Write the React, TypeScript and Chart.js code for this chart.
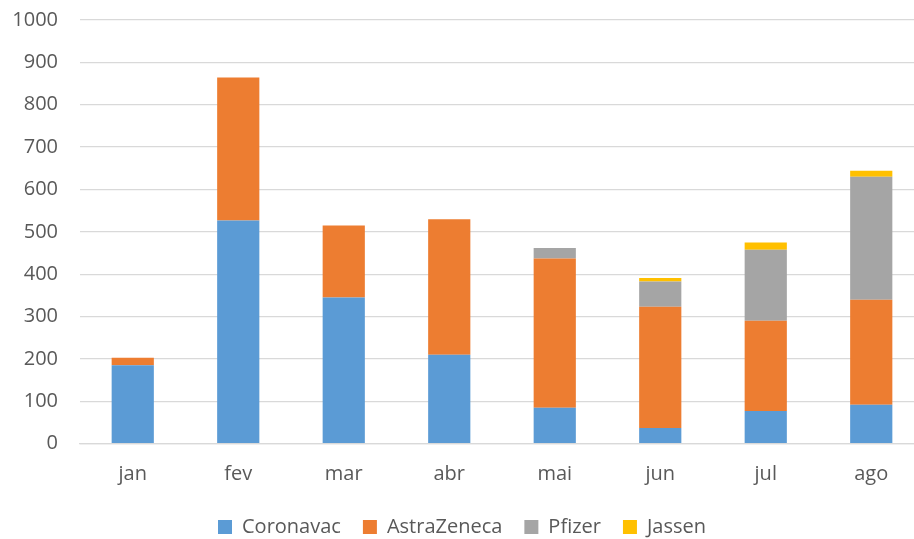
import React, { useEffect, useRef } from "react";
import { Chart, registerables } from "chart.js";

Chart.register(...registerables);

const months = ["jan", "fev", "mar", "abr", "mai", "jun", "jul", "ago"];
const coronavac = [185, 527, 345, 210, 85, 37, 77, 92];
const astraZeneca = [18, 337, 170, 320, 352, 286, 213, 248];
const pfizer = [0, 0, 0, 0, 25, 60, 168, 290];
const jassen = [0, 0, 0, 0, 0, 8, 17, 14];
const yTicks = [0, 100, 200, 300, 400, 500, 600, 700, 800, 900, 1000];

const FONT = "'Open Sans', 'DejaVu Sans', sans-serif";
const TEXT = "#595959";
const GRID = "#d9d9d9";

export default function App() {
  const ref = useRef<HTMLCanvasElement | null>(null);

  useEffect(() => {
    if (!ref.current) return;
    const chart = new Chart(ref.current, {
      type: "bar",
      data: {
        labels: months,
        datasets: [
          { label: "Coronavac", data: coronavac, backgroundColor: "#5B9BD5" },
          { label: "AstraZeneca", data: astraZeneca, backgroundColor: "#ED7D31" },
          { label: "Pfizer", data: pfizer, backgroundColor: "#A5A5A5" },
          { label: "Jassen", data: jassen, backgroundColor: "#FFC000" },
        ],
      },
      options: {
        responsive: false,
        animation: false,
        devicePixelRatio: 1,
        layout: { padding: { top: 20, left: 0, right: 0, bottom: 0 } },
        datasets: {
          bar: { categoryPercentage: 1, barPercentage: 0.4, borderWidth: 0 },
        },
        plugins: {
          tooltip: { enabled: false },
          legend: {
            position: "bottom",
            labels: {
              boxWidth: 14,
              boxHeight: 14,
              padding: 22,
              color: TEXT,
              font: { family: FONT, size: 20 },
            },
          },
        },
        scales: {
          x: {
            stacked: true,
            grid: { display: false, drawTicks: false },
            border: { display: true, color: GRID, width: 1.3 },
            ticks: { color: TEXT, font: { family: FONT, size: 20 }, padding: 19 },
            afterFit: (s: any) => {
              s.height = 51.3;
            },
          },
          y: {
            stacked: true,
            min: 0,
            max: 1000,
            afterBuildTicks: (s: any) => {
              s.ticks = yTicks.map((v) => ({ value: v }));
            },
            grid: { color: GRID, lineWidth: 1.3, drawTicks: false },
            border: { display: false },
            ticks: {
              color: TEXT,
              font: { family: FONT, size: 20 },
              padding: 22,
              callback: (v: any) => String(v),
            },
            afterFit: (s: any) => {
              s.width = 80;
              s.paddingTop = 0;
              s.paddingBottom = 0;
            },
          },
        },
      },
    });
    return () => chart.destroy();
  }, []);

  return (
    <div
      style={{
        position: "absolute",
        left: 0,
        top: 0,
        width: 914,
        height: 539,
        overflow: "hidden",
        background: "#fff",
      }}
    >
      <canvas ref={ref} width={924} height={547} style={{ width: 924, height: 547, display: "block" }} />
    </div>
  );
}
